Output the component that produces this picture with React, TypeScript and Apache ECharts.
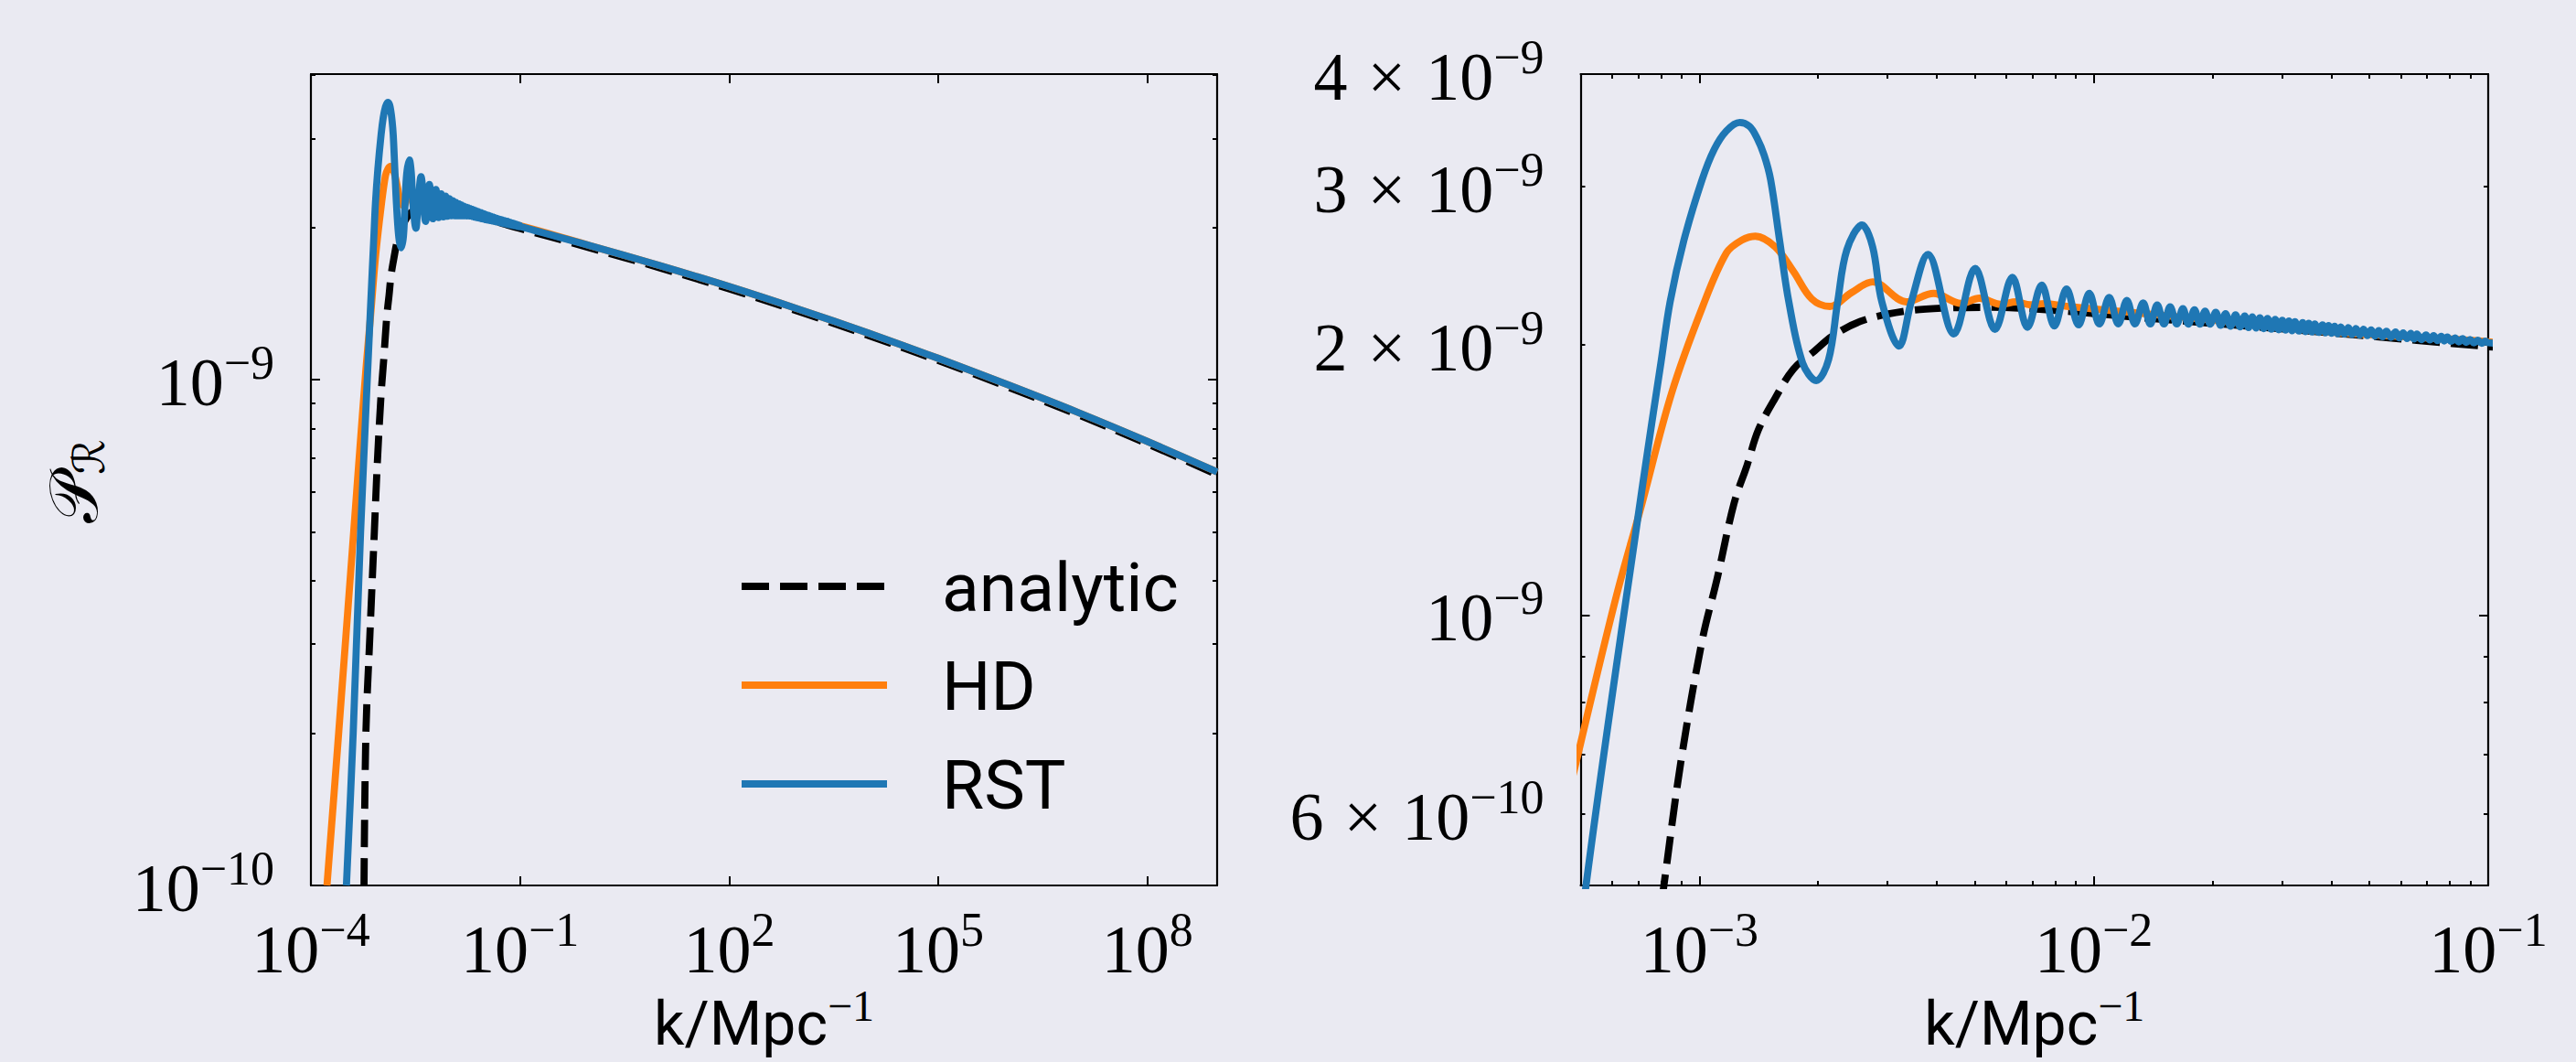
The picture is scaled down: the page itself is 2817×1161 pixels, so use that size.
import React, { useEffect, useRef } from 'react';
import * as echarts from 'echarts';

// ---------------- data (k in Mpc^-1, P in units of 1e-9) ----------------
const P_UNIT = 1e-9;

const analyticData: number[][] = [
  [5.78e-4, 0.1], [6.15e-4, 0.2], [7.0e-4, 0.31], [8.13e-4, 0.5], [8.97e-4, 0.685],
  [1.016e-3, 0.936], [1.11e-3, 1.099], [1.224e-3, 1.331], [1.321e-3, 1.468], [1.411e-3, 1.607],
  [1.557e-3, 1.744], [1.732e-3, 1.879], [1.962e-3, 1.969], [2.183e-3, 2.047], [2.607e-3, 2.129],
  [3.344e-3, 2.18], [4.215e-3, 2.197], [5.5e-3, 2.201], [7.58e-3, 2.187], [1.33e-2, 2.143],
  [2.5e-2, 2.096], [4.62e-2, 2.051], [6.59e-2, 2.022], [0.1, 1.99], [1, 1.823], [10, 1.665],
  [100, 1.512], [1e3, 1.364], [1e4, 1.223], [1e5, 1.091], [1e6, 0.967], [1e7, 0.853],
  [1e8, 0.747], [1e9, 0.649],
];

const hdData: number[][] = [
  [1.7e-4, 0.1], [2.5e-4, 0.2], [5.0e-4, 0.72], [6.17e-4, 1.053], [7.12e-4, 1.321],
  [8.5e-4, 1.765], [1.016e-3, 2.197], [1.171e-3, 2.53], [1.28e-3, 2.614], [1.387e-3, 2.641],
  [1.557e-3, 2.57], [1.732e-3, 2.413], [1.927e-3, 2.249], [2.143e-3, 2.206], [2.428e-3, 2.285],
  [2.75e-3, 2.349], [3.345e-3, 2.232], [3.926e-3, 2.281], [4.61e-3, 2.223], [5.13e-3, 2.253],
  [5.81e-3, 2.218], [6.35e-3, 2.232], [6.9e-3, 2.215], [7.5e-3, 2.222], [8.53e-3, 2.207],
  [1.1e-2, 2.184], [2.0e-2, 2.13], [4.0e-2, 2.065], [0.1, 2.015], [1, 1.842], [10, 1.682],
  [100, 1.528], [1e3, 1.378], [1e4, 1.236], [1e5, 1.102], [1e6, 0.977], [1e7, 0.862],
  [1e8, 0.755], [1e9, 0.657],
];

const rstData: number[][] = [
  [3.23e-4, 0.1], [4.04e-4, 0.2], [5.16e-4, 0.5], [7.18e-4, 1.396], [7.99e-4, 1.909],
  [8.43e-4, 2.232], [9.13e-4, 2.61], [1.016e-3, 3.052], [1.091e-3, 3.301], [1.171e-3, 3.46],
  [1.265e-3, 3.536], [1.34e-3, 3.5], [1.399e-3, 3.4], [1.46e-3, 3.25], [1.516e-3, 3.052],
  [1.598e-3, 2.61], [1.686e-3, 2.232],
  [1.827e-3, 1.909], [1.979e-3, 1.824], [2.126e-3, 1.924], [2.242e-3, 2.232], [2.365e-3, 2.55],
  [2.585e-3, 2.718], [2.75e-3, 2.57], [2.902e-3, 2.232], [3.208e-3, 1.993], [3.445e-3, 2.232],
  [3.798e-3, 2.52], [4.417e-3, 2.056], [5.004e-3, 2.432], [5.617e-3, 2.08], [6.217e-3, 2.377],
  [6.79e-3, 2.091], [7.38e-3, 2.33], [7.945e-3, 2.098], [8.53e-3, 2.307], [9.15e-3, 2.104],
  [9.74e-3, 2.281], [1.033e-2, 2.109], [1.094e-2, 2.258], [1.154e-2, 2.109], [1.213e-2, 2.24],
  [1.272e-2, 2.109], [1.334e-2, 2.226], [1.391e-2, 2.109], [1.448e-2, 2.214], [1.507e-2, 2.109],
  [1.561e-2, 2.204], [1.624e-2, 2.109], [1.682e-2, 2.194], [1.737e-2, 2.108], [1.8e-2, 2.187],
  [1.858e-2, 2.108], [1.915e-2, 2.18], [1.973e-2, 2.108], [2.038e-2, 2.173],
  [2.097e-2, 2.102], [2.158e-2, 2.166], [2.222e-2, 2.097], [2.288e-2, 2.159], [2.35e-2, 2.093],
  [2.414e-2, 2.153], [2.468e-2, 2.09], [2.523e-2, 2.148], [2.58e-2, 2.087], [2.638e-2, 2.143],
  [2.697e-2, 2.084], [2.758e-2, 2.139], [2.82e-2, 2.081], [2.884e-2, 2.134], [2.944e-2, 2.078],
  [3.005e-2, 2.129], [3.064e-2, 2.076], [3.125e-2, 2.125], [3.181e-2, 2.073], [3.237e-2, 2.121],
  [3.31e-2, 2.071], [3.384e-2, 2.116], [3.445e-2, 2.068], [3.507e-2, 2.113], [3.57e-2, 2.066],
  [3.634e-2, 2.109], [3.716e-2, 2.064], [3.799e-2, 2.104], [3.867e-2, 2.062], [3.937e-2, 2.101],
  [4.007e-2, 2.059], [4.079e-2, 2.097], [4.152e-2, 2.057], [4.227e-2, 2.093], [4.322e-2, 2.055],
  [4.419e-2, 2.089], [4.518e-2, 2.052], [4.62e-2, 2.084], [4.724e-2, 2.05], [4.83e-2, 2.081],
  [4.938e-2, 2.047], [5.049e-2, 2.077], [5.163e-2, 2.044], [5.28e-2, 2.074], [5.399e-2, 2.041],
  [5.52e-2, 2.07], [5.668e-2, 2.038], [5.821e-2, 2.066], [5.953e-2, 2.035], [6.087e-2, 2.062],
  [6.224e-2, 2.032], [6.364e-2, 2.059], [6.478e-2, 2.029], [6.594e-2, 2.056], [6.772e-2, 2.026],
  [6.955e-2, 2.051], [7.111e-2, 2.024], [7.271e-2, 2.047], [7.434e-2, 2.021], [7.601e-2, 2.043],
  [7.738e-2, 2.019], [7.877e-2, 2.04], [8.054e-2, 2.017], [8.235e-2, 2.035], [8.421e-2, 2.014],
  [8.61e-2, 2.031], [8.803e-2, 2.012], [9.0e-2, 2.027], [9.203e-2, 2.009], [9.41e-2, 2.023],
  [9.622e-2, 2.007], [9.838e-2, 2.018], [0.1, 2.01],
  [1, 1.842], [10, 1.682], [100, 1.528], [1e3, 1.378], [1e4, 1.236], [1e5, 1.102],
  [1e6, 0.977], [1e7, 0.862], [1e8, 0.755], [1e9, 0.657],
];

const seriesNames = ['analytic', 'HD', 'RST'];
const seriesColors = ['#000000', '#ff7f0e', '#1f77b4'];
const seriesData = [analyticData, hdData, rstData];

// axis ranges and ticks (in k and P)
const leftXRange = [1e-4, 1e9];
const leftYRange = [1e-10, 4.02e-9];
const rightXRange = [5e-4, 1e-1];
const rightYRange = [5e-10, 4.002e-9];

const leftXMajor = [1e-4, 1e-1, 1e2, 1e5, 1e8];
const leftYMajor = [1e-10, 1e-9];
const leftYMinor = [2e-10, 3e-10, 4e-10, 5e-10, 6e-10, 7e-10, 8e-10, 9e-10, 2e-9, 3e-9, 4e-9];
const rightXMajor = [1e-3, 1e-2, 1e-1];
const rightXMinor = [
  6e-4, 7e-4, 8e-4, 9e-4,
  2e-3, 3e-3, 4e-3, 5e-3, 6e-3, 7e-3, 8e-3, 9e-3,
  2e-2, 3e-2, 4e-2, 5e-2, 6e-2, 7e-2, 8e-2, 9e-2,
];
const rightYMajor = [1e-9];
const rightYMinor = [6e-10, 7e-10, 8e-10, 9e-10, 2e-9, 3e-9, 4e-9];
const rightYLabels = [6e-10, 1e-9, 2e-9, 3e-9, 4e-9];

const xTitle = { main: 'k/Mpc', sup: '\u22121' };
const yTitle = { main: '\uD835\uDCAB', sub: '\u211B' };

// ---------------- styling ----------------
const BG = '#EAEAF2';
const SERIF = "'Liberation Serif', 'DejaVu Serif', serif";
const SANS = "Roboto, 'DejaVu Sans', sans-serif";
const LEFT_GRID = { left: 340, top: 81, width: 991, height: 887 };
const RIGHT_GRID = { left: 1728.5, top: 81, width: 992.5, height: 887 };

const L = (v: number) => Math.log10(v);
const sup = (e: number) => (e < 0 ? '\u2212' + Math.abs(e) : String(e));
const fmtLog = (v: number) => {
  const e = Math.floor(v + 1e-6);
  const m = Math.round(Math.pow(10, v - e));
  return m === 1 ? `{b|10}{s|${sup(e)}}` : `{b|${m}}{x|\u00d7}{b|10}{s|${sup(e)}}`;
};
const labelRich = {
  b: { fontFamily: SERIF, fontSize: 74, color: '#000', padding: [6, 0, 0, 0] },
  x: { fontFamily: SERIF, fontSize: 74, color: '#000', padding: [6, 22, 0, 22] },
  s: { fontFamily: SERIF, fontSize: 52, color: '#000', padding: [0, 0, 37, 0] },
};

function axis(
  gridIndex: number,
  position: string,
  range: number[],
  ticks: number[],
  len: number,
  showLine: boolean,
  labels?: number[],
  margin?: number
) {
  return {
    type: 'value',
    gridIndex,
    position,
    min: L(range[0]),
    max: L(range[1]),
    axisLine: { show: showLine, onZero: false, lineStyle: { color: '#000', width: 2.2 } },
    axisTick: {
      show: true,
      inside: true,
      length: len,
      customValues: ticks.map(L),
      lineStyle: { color: '#000', width: 2 },
    },
    axisLabel: labels
      ? { show: true, customValues: labels.map(L), margin, formatter: fmtLog, rich: labelRich, color: '#000' }
      : { show: false },
    splitLine: { show: false },
    splitArea: { show: false },
    minorTick: { show: false },
    minorSplitLine: { show: false },
    axisPointer: { show: false },
    silent: true,
  };
}

export default function App() {
  const ref = useRef<HTMLDivElement>(null);
  useEffect(() => {
    if (!ref.current) return;
    const chart = echarts.init(ref.current, null, { renderer: 'svg' });

    const xAxis = [
      axis(0, 'bottom', leftXRange, leftXMajor, 10, true, leftXMajor, 22),
      axis(0, 'top', leftXRange, leftXMajor, 10, true),
      axis(1, 'bottom', rightXRange, rightXMajor, 10, true, rightXMajor, 22),
      axis(1, 'bottom', rightXRange, rightXMinor, 5, false),
      axis(1, 'top', rightXRange, rightXMajor, 10, true),
      axis(1, 'top', rightXRange, rightXMinor, 5, false),
    ];
    const yAxis = [
      axis(0, 'left', leftYRange, leftYMajor, 10, true, leftYMajor, 40),
      axis(0, 'left', leftYRange, leftYMinor, 5, false),
      axis(0, 'right', leftYRange, leftYMajor, 10, true),
      axis(0, 'right', leftYRange, leftYMinor, 5, false),
      axis(1, 'left', rightYRange, rightYMajor, 10, true, rightYLabels, 40),
      axis(1, 'left', rightYRange, rightYMinor, 5, false),
      axis(1, 'right', rightYRange, rightYMajor, 10, true),
      axis(1, 'right', rightYRange, rightYMinor, 5, false),
    ];

    const series: any[] = [];
    [
      { x: 0, y: 0 },
      { x: 2, y: 4 },
    ].forEach((ax, gi) => {
      seriesData.forEach((d, i) => {
        series.push({
          type: 'line',
          name: seriesNames[i] + (gi ? ' (zoom)' : ''),
          xAxisIndex: ax.x,
          yAxisIndex: ax.y,
          data: d.map((p) => [L(p[0]), L(p[1] * P_UNIT)]),
          symbol: 'none',
          showSymbol: false,
          smooth: 0.35,
          clip: true,
          silent: true,
          z: 2 + i,
          lineStyle: {
            color: seriesColors[i],
            width: 7.8,
            type: i === 0 ? [30, 12] : 'solid',
            cap: 'butt',
            join: 'round',
          },
          itemStyle: { color: seriesColors[i] },
        });
      });
    });

    const legendYs = [641, 749, 857];
    const graphic: any[] = [];
    seriesNames.forEach((n, i) => {
      graphic.push({
        type: 'line',
        silent: true,
        z: 10,
        shape: { x1: 811, y1: legendYs[i], x2: 970, y2: legendYs[i] },
        style: {
          stroke: seriesColors[i],
          lineWidth: 8,
          lineDash: i === 0 ? [30, 12] : null,
          lineCap: 'butt',
        },
      });
      graphic.push({
        type: 'text',
        silent: true,
        z: 10,
        x: 1030,
        y: legendYs[i] + 1,
        style: {
          text: n,
          fontFamily: SANS,
          fontSize: 75,
          fill: '#000',
          align: 'left',
          verticalAlign: 'middle',
        },
      });
    });
    const xTitleRich = {
      t: { fontFamily: SANS, fontSize: 66, color: '#000', verticalAlign: 'bottom' },
      s: { fontFamily: SERIF, fontSize: 48, color: '#000', verticalAlign: 'top', padding: [0, 0, 29, 0] },
    };
    [LEFT_GRID, RIGHT_GRID].forEach((g) => {
      graphic.push({
        type: 'text',
        silent: true,
        x: g.left + g.width / 2,
        y: 1114,
        style: {
          text: `{t|${xTitle.main}}{s|${xTitle.sup}}`,
          rich: xTitleRich,
          align: 'center',
          verticalAlign: 'middle',
          fill: '#000',
        },
      });
    });
    graphic.push({
      type: 'text',
      silent: true,
      x: 80,
      y: 526,
      rotation: Math.PI / 2,
      style: {
        text: `{p|${yTitle.main}}{r|${yTitle.sub}}`,
        rich: {
          p: { fontFamily: "'DejaVu Serif', 'DejaVu Sans', serif", fontSize: 74, color: '#000' },
          r: { fontFamily: "'DejaVu Serif', 'DejaVu Sans', serif", fontSize: 48, color: '#000', padding: [34, 0, 0, 0] },
        },
        align: 'center',
        verticalAlign: 'middle',
        fill: '#000',
      },
    });

    chart.setOption({
      animation: false,
      backgroundColor: BG,
      grid: [
        { ...LEFT_GRID, containLabel: false, outerBoundsMode: 'none', show: false },
        { ...RIGHT_GRID, containLabel: false, outerBoundsMode: 'none', show: false },
      ],
      xAxis,
      yAxis,
      series,
      graphic,
    });
    return () => chart.dispose();
  }, []);

  return (
    <div
      style={{ position: 'fixed', left: 0, top: 0, width: 2817, height: 1161, background: BG }}
    >
      <div ref={ref} style={{ width: 2817, height: 1161 }} />
    </div>
  );
}
